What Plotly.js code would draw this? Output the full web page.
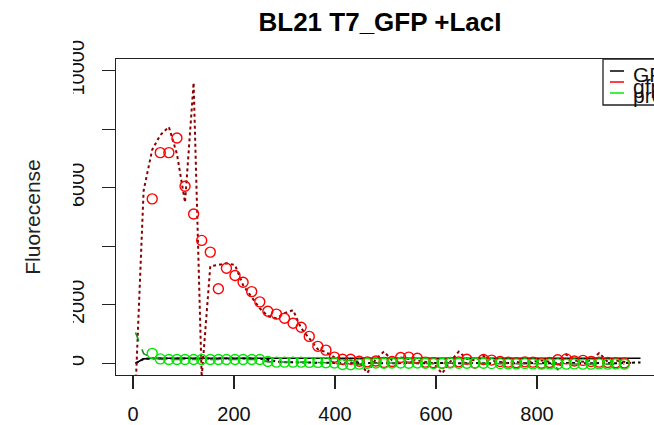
<!DOCTYPE html>
<html>
<head>
<meta charset="utf-8">
<script src="https://cdn.plot.ly/plotly-3.0.1.min.js"></script>
<style>
html,body{margin:0;padding:0;overflow:hidden;background:#fff;width:654px;height:425px;}
#chart{width:720px;height:425px;}
</style>
</head>
<body>
<div id="chart"></div>
<script>
// ---- data ----
const timeMin = [5, 21, 38, 54, 71, 87, 103, 120, 136, 153, 169, 185, 202, 218, 235, 251, 267, 284, 300, 317, 333, 349, 366, 382, 399, 415, 431, 448, 464, 481, 497, 513, 530, 546, 563, 579, 595, 612, 628, 645, 661, 677, 694, 710, 727, 743, 759, 776, 792, 809, 825, 841, 858, 874, 891, 907, 923, 940, 956, 973, 989, 1005];

const gfpLine = [0, 150, 170, 170, 170, 170, 170, 170, 170, 170, 170, 170, 170, 170, 170, 170, 170, 170, 170, 170, 170, 170, 170, 170, 170, 170, 170, 170, 170, 170, 170, 170, 170, 170, 170, 170, 170, 170, 170, 170, 170, 170, 170, 170, 170, 170, 170, 170, 170, 170, 170, 170, 170, 170, 170, 170, 170, 170, 170, 170, 170, 170];

const gfpDotted = [0, 150, 160, 160, 160, 160, 160, 160, 160, 160, 160, 160, 160, 160, 160, 160, 120, 60, 40, 30, 30, 20, 20, 20, 10, 10, 0, 10, 20, 10, 0, 10, 20, 10, 0, 10, 20, 10, 0, 10, 20, 10, 0, 10, 20, 10, 0, 10, 20, 10, 0, 10, 20, 10, 0, 10, 20, 10, 0, 10, 20, 30];

const redPoints = [null, null, 5620, 7200, 7200, 7700, 6050, 5100, 4200, 3800, 2550, 3250, 3000, 2770, 2450, 2100, 1780, 1680, 1540, 1370, 1230, 920, 580, 450, 210, 140, 140, 70, 50, 80, 30, 60, 200, 210, 170, 40, 20, 0, 30, 50, 140, 10, 130, 110, 60, 40, 20, 50, 40, 0, 30, 120, 150, 80, 100, 60, 40, 30, 20, 10, null, null];

const redDotted = [-900, 5900, 7300, 7800, 8080, 7150, 5500, 9590, -480, 3320, 3360, 3420, 3360, 2670, 2260, 1880, 1610, 1540, 1710, 1815, 1200, 860, 480, 380, 200, 100, 100, 50, -330, 150, 400, 100, 200, 150, 100, 50, 0, -350, 50, 400, 150, 100, 250, 100, 50, 0, 50, 0, 50, 100, 50, -200, 300, 100, 50, 100, 350, 50, 100, 50, 0, null];

const greenPoints = [null, null, 340, 150, 130, 130, 130, 130, 130, 130, 130, 130, 130, 130, 130, 130, 60, 40, 40, 40, 40, 30, 30, 20, 10, -40, -50, -30, 0, 10, 0, 10, 10, 0, 10, 0, -10, 0, 10, 0, 0, 10, 0, -10, -10, -20, -20, -10, -20, -30, -20, -20, -30, -20, -30, -30, -20, -30, -20, -30, null, null];

const greenDashed = [1050, 330, 180, 140, 130, 130, 130, 130, 130, 130, 130, 130, 130, 130, 130, 130, 50, 40, 40, 40, 40, 30, 30, 20, 10, -40, -40, -30, 0, 10, 0, 10, 10, 0, 10, 0, -10, 0, 10, 0, 0, 10, 0, -10, -10, -20, -20, -10, -20, -30, -20, -20, -30, -20, -30, -30, -20, -30, -20, -30, null, null];

const xTickVals = [0, 200, 400, 600, 800];
const xTickText = ["0", "200", "400", "600", "800"];
const yTickVals = [0, 2000, 4000, 6000, 8000, 10000];
const yTickText = ["0", "2000", "", "6000", "", "10000"];
const legendLabels = ["GFP", "gfp", "pro"];
const legendColors = ["#000000", "#ff0000", "#00ee00"];

// ---- layout geometry ----
const W = 720, H = 425, ML = 116, MR = 20, MT = 59, MB = 50;
const PW = W - ML - MR, PH = H - MT - MB;
const px = v => (v - ML) / PW;
const py = v => 1 - (v - MT) / PH;
const FONT = "Liberation Sans, Arial, sans-serif";

const traces = [
  {x: timeMin, y: gfpLine, type: "scatter", mode: "lines", line: {color: "#000", width: 1.6}, hoverinfo: "skip"},
  {x: timeMin, y: gfpDotted, type: "scatter", mode: "lines", line: {color: "#000", width: 2, dash: "dot"}, connectgaps: false, hoverinfo: "skip"},
  {x: timeMin, y: redDotted, type: "scatter", mode: "lines", line: {color: "#8b0000", width: 2, dash: "dot"}, hoverinfo: "skip"},
  {x: timeMin, y: greenDashed, type: "scatter", mode: "lines", line: {color: "#1e8c1e", width: 1.6, dash: "dash"}, hoverinfo: "skip"},
  {x: timeMin, y: redPoints, type: "scatter", mode: "markers", marker: {symbol: "circle-open", size: 10, color: "#ff0000", line: {width: 1.4, color: "#ff0000"}}, hoverinfo: "skip"},
  {x: timeMin, y: greenPoints, type: "scatter", mode: "markers", marker: {symbol: "circle-open", size: 10, color: "#00e600", line: {width: 1.4, color: "#00e600"}}, hoverinfo: "skip"}
];

const shapes = [
  // legend box
  {type: "rect", xref: "paper", yref: "paper", x0: px(603), x1: px(760), y0: py(105), y1: py(59), line: {color: "#222", width: 1.3}, fillcolor: "#fff", layer: "above"},
  // the reference clips the left part of the rotated y tick labels
  {type: "rect", xref: "paper", yref: "paper", x0: px(52), x1: px(73), y0: py(395), y1: py(30), line: {width: 0}, fillcolor: "#fff", layer: "above"}
];
const annotations = [];
const legY = [71, 82, 93];
const legTextY = [74, 86, 96];
for (let k = 0; k < legendLabels.length; k++) {
  shapes.push({type: "line", xref: "paper", yref: "paper", x0: px(610), x1: px(624), y0: py(legY[k]), y1: py(legY[k]), line: {color: legendColors[k], width: 1.5}, layer: "above"});
  annotations.push({text: legendLabels[k], xref: "paper", yref: "paper", x: px(631), y: py(legTextY[k]), xanchor: "left", yanchor: "middle", showarrow: false, font: {family: FONT, size: 21, color: "#111"}});
}

const layout = {
  width: W, height: H,
  margin: {l: ML, r: MR, t: MT, b: MB},
  paper_bgcolor: "#fff", plot_bgcolor: "#fff",
  showlegend: false,
  font: {family: FONT, color: "#111"},
  title: {text: "BL21 T7_GFP +LacI", xref: "container", yref: "container", x: 380 / W, y: 1 - 22 / H, xanchor: "center", yanchor: "middle", font: {family: FONT, size: 26, weight: "bold", color: "#000"}},
  xaxis: {
    range: [-33.7, 1122.8], showgrid: false, zeroline: false,
    showline: true, mirror: true, linecolor: "#222", linewidth: 1.3,
    tickmode: "array", tickvals: xTickVals, ticktext: xTickText,
    ticks: "outside", ticklen: 13, tickwidth: 1.3, tickcolor: "#222",
    tickfont: {family: FONT, size: 20, color: "#111"}, ticklabelstandoff: 8
  },
  yaxis: {
    range: [-400, 10400], showgrid: false, zeroline: false,
    showline: true, mirror: true, linecolor: "#222", linewidth: 1.3,
    tickmode: "array", tickvals: yTickVals, ticktext: yTickText, tickangle: -90,
    ticks: "outside", ticklen: 13, tickwidth: 1.3, tickcolor: "#222",
    tickfont: {family: FONT, size: 20, color: "#111"}, ticklabelstandoff: 10,
    title: {text: "Fluorecense", font: {family: FONT, size: 21, color: "#222"}, standoff: 19}
  },
  shapes: shapes,
  annotations: annotations
};

Plotly.newPlot("chart", traces, layout, {staticPlot: true, displayModeBar: false});
</script>
</body>
</html>
